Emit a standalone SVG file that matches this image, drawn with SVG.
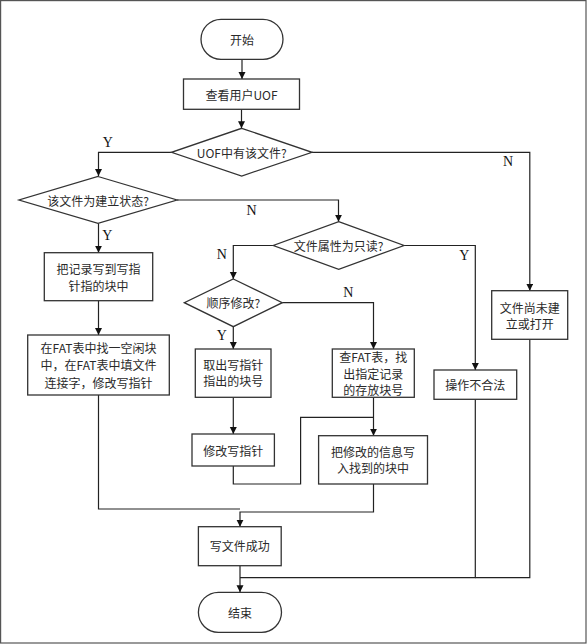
<svg xmlns="http://www.w3.org/2000/svg" width="587" height="644" viewBox="0 0 587 644">
<style>
.frame{fill:#fff;stroke:#555;stroke-width:1.2}
.node{fill:#fff;stroke:#333;stroke-width:1.3}
.t{font-family:"Noto Sans CJK SC","Liberation Serif",serif;font-size:12px;fill:#2a2a2a;text-anchor:middle;dominant-baseline:central}
.lbl{font-family:"Liberation Serif",serif;font-size:14px;fill:#111;text-anchor:middle;dominant-baseline:central}
.c{fill:none;stroke:#222;stroke-width:1.2}
.a{marker-end:url(#arr)}
</style>
<defs>
<marker id="arr" markerUnits="userSpaceOnUse" markerWidth="8" markerHeight="8" refX="7" refY="3.5" orient="auto">
<path d="M0,0 L7,3.5 L0,7 z" fill="#111"/>
</marker>
</defs>
<rect class="frame" x="0.6" y="0.6" width="585.4" height="642.4"/>
<g id="connectors">
<path class="c a" d="M242,59.3 V79"/>
<path class="c a" d="M241.5,109.3 V128.3"/>
<path class="c a" d="M171.5,152.3 H98.5 V176"/>
<path class="c a" d="M312,152.3 H529.8 V290.7"/>
<path class="c a" d="M177,200 H338.5 V221.7"/>
<path class="c a" d="M98.5,223.3 V252.7"/>
<path class="c a" d="M98.5,300.7 V335"/>
<path class="c a" d="M273.3,245.5 H233.3 V279"/>
<path class="c a" d="M404,245.5 H475.3 V370"/>
<path class="c a" d="M282.3,302.7 H373.5 V349"/>
<path class="c a" d="M233.3,326.7 V349"/>
<path class="c a" d="M233.3,397.3 V434"/>
<path class="c a" d="M373.5,397.3 V435.7"/>
<path class="c" d="M233.3,466 V484 H300.6 V417.3 H373.5"/>
<path class="c a" d="M373.5,484 V512 H240 V526.7"/>
<path class="c" d="M98.5,395 V509 H240"/>
<path class="c a" d="M240,565.7 V592.3"/>
<path class="c" d="M475.3,399.3 V577.7 H240"/>
<path class="c" d="M529.8,339.3 V577.7 H475.3"/>
<text class="lbl" x="107.8" y="142.7">Y</text>
<text class="lbl" x="508" y="161.7">N</text>
<text class="lbl" x="251.6" y="210">N</text>
<text class="lbl" x="107.3" y="235">Y</text>
<text class="lbl" x="221.7" y="254">N</text>
<text class="lbl" x="221.7" y="335">Y</text>
<text class="lbl" x="464.3" y="255">Y</text>
<text class="lbl" x="348.3" y="292.7">N</text>
</g>
<g id="start">
<rect class="node" x="201" y="19.3" width="82" height="40" rx="20"/>
<text class="t" x="242" y="39.3">开始</text>
</g>
<g id="viewUOF">
<rect class="node" x="183.5" y="79" width="116" height="30.3"/>
<text class="t" x="241.5" y="94.2">查看用户UOF</text>
</g>
<g id="hasFile">
<polygon class="node" points="241.7,128.3 312,152.3 241.7,176 171.5,152.3"/>
<text class="t" x="241.7" y="152.3">UOF中有该文件?</text>
</g>
<g id="isCreate">
<polygon class="node" points="98,176.5 177,200 98,223.3 19,200"/>
<text class="t" x="98" y="200">该文件为建立状态?</text>
</g>
<g id="readOnly">
<polygon class="node" points="338.7,221.7 404,245.5 338.7,269.3 273.3,245.5"/>
<text class="t" x="338.7" y="245.5">文件属性为只读?</text>
</g>
<g id="writeRecord">
<rect class="node" x="44.3" y="252.7" width="108.4" height="48"/>
<text class="t" x="98.5" y="268.3">把记录写到写指</text>
<text class="t" x="98.5" y="285">针指的块中</text>
</g>
<g id="findFree">
<rect class="node" x="27.7" y="335" width="141.6" height="60"/>
<text class="t" x="98.5" y="347.7">在FAT表中找一空闲块</text>
<text class="t" x="98.5" y="364.7">中，在FAT表中填文件</text>
<text class="t" x="98.5" y="382">连接字，修改写指针</text>
</g>
<g id="sequential">
<polygon class="node" points="233.3,279 282.3,302.7 233.3,326.7 184.3,302.7"/>
<text class="t" x="233.3" y="302.7">顺序修改?</text>
</g>
<g id="getBlock">
<rect class="node" x="195.3" y="349" width="75.7" height="48.3"/>
<text class="t" x="233.2" y="364">取出写指针</text>
<text class="t" x="233.2" y="380.7">指出的块号</text>
</g>
<g id="lookupFAT">
<rect class="node" x="332.3" y="349" width="82" height="48.3"/>
<text class="t" x="373.3" y="356.3">查FAT表，找</text>
<text class="t" x="373.3" y="373">出指定记录</text>
<text class="t" x="373.3" y="389.5">的存放块号</text>
</g>
<g id="illegal">
<rect class="node" x="434" y="370" width="82.7" height="29.3"/>
<text class="t" x="475.3" y="384.6">操作不合法</text>
</g>
<g id="notOpen">
<rect class="node" x="491.7" y="290.7" width="76" height="48.6"/>
<text class="t" x="529.7" y="307">文件尚未建</text>
<text class="t" x="529.7" y="323.5">立或打开</text>
</g>
<g id="modPtr">
<rect class="node" x="192" y="434" width="82.4" height="32"/>
<text class="t" x="233.2" y="450">修改写指针</text>
</g>
<g id="writeInfo">
<rect class="node" x="318.6" y="435.7" width="108.9" height="48.3"/>
<text class="t" x="373" y="451">把修改的信息写</text>
<text class="t" x="373" y="467.5">入找到的块中</text>
</g>
<g id="success">
<rect class="node" x="198.4" y="526.7" width="82.8" height="39"/>
<text class="t" x="239.8" y="545.7">写文件成功</text>
</g>
<g id="end">
<rect class="node" x="198.4" y="592.3" width="83.1" height="40" rx="20"/>
<text class="t" x="240" y="612">结束</text>
</g>
</svg>
